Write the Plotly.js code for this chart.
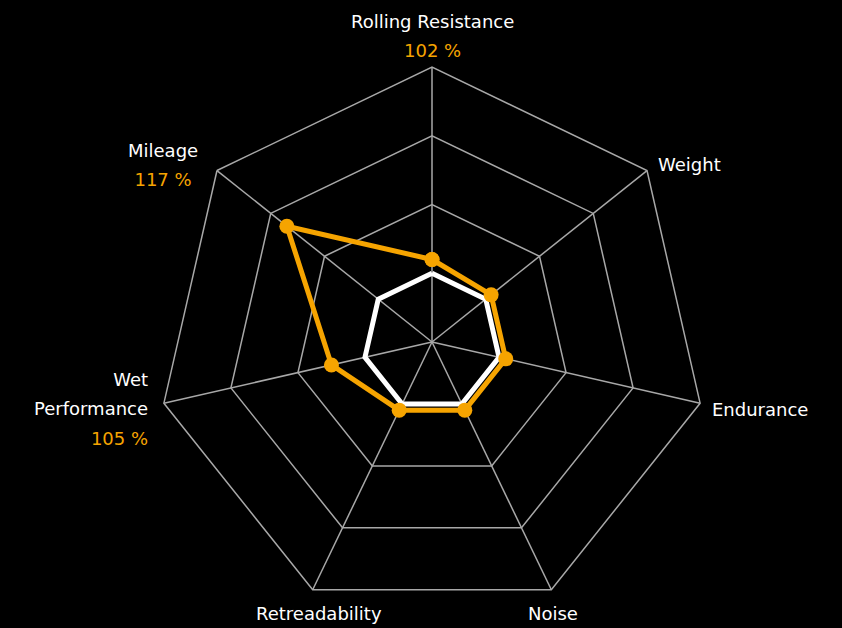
<!DOCTYPE html>
<html>
<head>
<meta charset="utf-8">
<script src="https://cdn.plot.ly/plotly-3.0.1.min.js"></script>
<style>html,body{margin:0;padding:0;background:#000;}</style>
</head>
<body>
<div id="chart" style="width:842px;height:628px;"></div>
<script>
var categories = ["Rolling Resistance", "Weight", "Endurance", "Noise", "Retreadability", "Wet Performance", "Mileage"];
var labelLines = [
  ["Rolling Resistance"],
  ["Weight"],
  ["Endurance"],
  ["Noise"],
  ["Retreadability"],
  ["Wet", "Performance"],
  ["Mileage"]
];
var percentLabels = ["102 %", "", "", "", "", "105 %", "117 %"];
var productValues = [102, 101, 101, 101, 101, 105, 117];
var baselineValues = [100, 100, 100, 100, 100, 100, 100];
var radialTicks = [100, 110, 120, 130];

var ORANGE = "#f6a400";
var W = 842, H = 628;
var M = {l: 22, r: 0, t: 67, b: 11};

// label placement style per category (anchor / alignment / pixel offsets from the outer vertex)
var labelStyle = [
  {xa: "center", ya: "bottom", align: "center", dx: 0,   dy: 6},
  {xa: "left",   ya: "middle", align: "left",   dx: 11,  dy: 6},
  {xa: "left",   ya: "middle", align: "left",   dx: 12,  dy: -6},
  {xa: "center", ya: "top",    align: "center", dx: 2,   dy: -13},
  {xa: "center", ya: "top",    align: "center", dx: 6,   dy: -13},
  {xa: "right",  ya: "middle", align: "right",  dx: -16, dy: -6},
  {xa: "right",  ya: "middle", align: "center", dx: -19, dy: 6}
];

function closeLoop(a) { return a.concat([a[0]]); }
function span(t, color) {
  return "<span style='font-size:18px" + (color ? ";color:" + color : "") + "'>" + t + "</span>";
}

var plotW = W - M.l - M.r, plotH = H - M.t - M.b;
var radPx = Math.min(plotW, plotH) / 2;
var n = categories.length;
var annotations = categories.map(function (c, i) {
  var ang = (90 - i * 360 / n) * Math.PI / 180;
  var lines = labelLines[i].map(function (t) { return span(t); });
  if (percentLabels[i]) lines.push(span(percentLabels[i], ORANGE));
  var s = labelStyle[i];
  return {
    xref: "paper", yref: "paper",
    x: 0.5 + radPx * Math.cos(ang) / plotW,
    y: 0.5 + radPx * Math.sin(ang) / plotH,
    xanchor: s.xa, yanchor: s.ya, align: s.align,
    xshift: s.dx, yshift: s.dy,
    text: lines.join("<br>"),
    showarrow: false,
    borderpad: 0, borderwidth: 0,
    font: {family: "DejaVu Sans, sans-serif", size: 22.5, color: "#ffffff"}
  };
});

var traces = [
  {
    type: "scatterpolar",
    r: closeLoop(baselineValues),
    theta: closeLoop(categories),
    mode: "lines",
    line: {color: "#ffffff", width: 5},
    hoverinfo: "skip",
    showlegend: false
  },
  {
    type: "scatterpolar",
    r: closeLoop(productValues),
    theta: closeLoop(categories),
    mode: "lines+markers",
    line: {color: ORANGE, width: 5},
    marker: {color: ORANGE, size: 15},
    showlegend: false
  }
];

var layout = {
  width: W,
  height: H,
  paper_bgcolor: "#000000",
  plot_bgcolor: "#000000",
  margin: M,
  font: {family: "DejaVu Sans, sans-serif", size: 18, color: "#ffffff"},
  showlegend: false,
  annotations: annotations,
  polar: {
    bgcolor: "#000000",
    gridshape: "linear",
    domain: {x: [0, 1], y: [0, 1]},
    radialaxis: {
      range: [90, 130],
      tickmode: "array",
      tickvals: radialTicks,
      showticklabels: false,
      ticks: "",
      showline: false,
      gridcolor: "#a8a8a8",
      gridwidth: 1.5
    },
    angularaxis: {
      type: "category",
      categoryorder: "array",
      categoryarray: categories,
      direction: "clockwise",
      rotation: 90,
      showticklabels: false,
      ticks: "",
      showline: true,
      linecolor: "#a8a8a8",
      linewidth: 1.5,
      gridcolor: "#a8a8a8",
      gridwidth: 1.5
    }
  }
};

Plotly.newPlot("chart", traces, layout, {displayModeBar: false, staticPlot: true});
</script>
</body>
</html>
